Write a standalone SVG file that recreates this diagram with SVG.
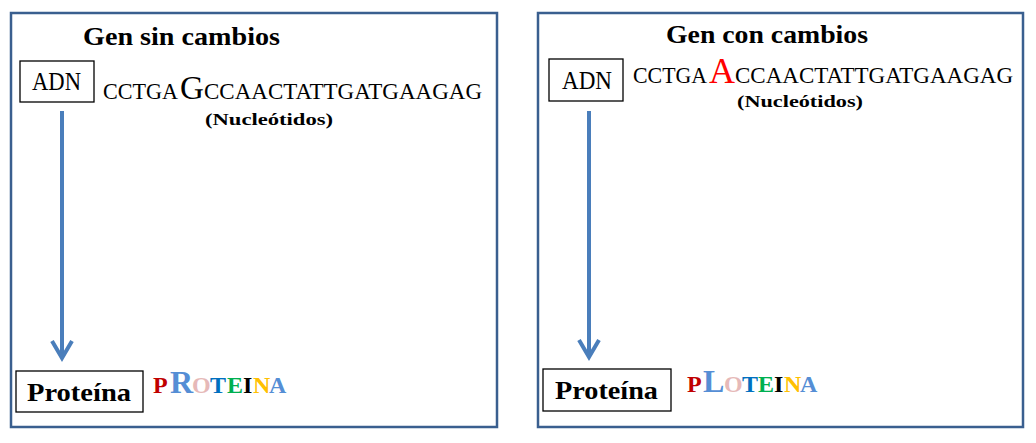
<svg xmlns="http://www.w3.org/2000/svg" width="1036" height="443" viewBox="0 0 1036 443">
<style>
.panel{fill:#ffffff;stroke:#3a5f8f;stroke-width:2.5}
.box{fill:#ffffff;stroke:#000000;stroke-width:1.3}
.title{font-family:"Liberation Serif",serif;font-weight:bold;font-size:25px;fill:#000}
.adn{font-family:"Liberation Serif",serif;font-size:25px;fill:#000}
.seq{font-family:"Liberation Serif",serif;font-size:24px;fill:#000}
.red{fill:#ff0000}
.nuc{font-family:"Liberation Serif",serif;font-weight:bold;font-size:17px;fill:#000}
.prot{font-family:"Liberation Serif",serif;font-weight:bold;font-size:26px;fill:#000}
.aa{font-family:"Liberation Serif",serif;font-weight:bold;font-size:24px}
.big{font-size:32px}
.conn{stroke:#4a7ebb;stroke-width:4;fill:none}
</style>
<defs>
<marker id="head" markerUnits="userSpaceOnUse" orient="auto" refX="0" refY="0" markerWidth="30" markerHeight="30" viewBox="-20 -15 30 30" overflow="visible">
<path d="M-17,-10 L0,0 L-17,10" fill="none" stroke="#4a7ebb" stroke-width="4" stroke-linejoin="miter"/>
</marker>
</defs>
<rect x="0" y="0" width="1036" height="443" fill="#ffffff"/>
<g id="panel-left">
<rect class="panel" x="11" y="13" width="486" height="414"/>
<text class="title" x="83" y="45" textLength="197" lengthAdjust="spacingAndGlyphs">Gen sin cambios</text>
<text class="seq" x="103" y="99" textLength="75" lengthAdjust="spacingAndGlyphs">CCTGA</text>
<text class="seq" x="180" y="99" style="font-size:33px">G</text>
<text class="seq" x="204" y="99" textLength="278" lengthAdjust="spacingAndGlyphs">CCAACTATTGATGAAGAG</text>
<text class="nuc" x="205" y="125" textLength="128" lengthAdjust="spacingAndGlyphs">(Nucleótidos)</text>
<g class="aa">
<text x="153" y="393" fill="#c00000">P</text>
<text x="170" y="393" fill="#558ed5" class="big">R</text>
<text x="192" y="393" fill="#e6b9b8">O</text>
<text x="210" y="393" fill="#0070c0">T</text>
<text x="227" y="393" fill="#00b050">E</text>
<text x="243" y="393" fill="#000000">I</text>
<text x="253" y="393" fill="#ffc000">N</text>
<text x="269" y="393" fill="#558ed5">A</text>
</g>
</g>
<g id="node-adn-left">
<rect class="box" x="20" y="61" width="74" height="41"/>
<text class="adn" x="32" y="90" textLength="49" lengthAdjust="spacingAndGlyphs">ADN</text>
</g>
<g id="node-proteina-left">
<rect class="box" x="16" y="371" width="127" height="41"/>
<text class="prot" x="27" y="401" textLength="104" lengthAdjust="spacingAndGlyphs">Proteína</text>
</g>
<g id="panel-right">
<rect class="panel" x="538" y="13" width="485" height="414"/>
<text class="title" x="666" y="43" textLength="202" lengthAdjust="spacingAndGlyphs">Gen con cambios</text>
<text class="seq" x="633" y="83" textLength="74" lengthAdjust="spacingAndGlyphs">CCTGA</text>
<text class="seq red" x="709" y="83" style="font-size:36px">A</text>
<text class="seq" x="735" y="83" textLength="278" lengthAdjust="spacingAndGlyphs">CCAACTATTGATGAAGAG</text>
<text class="nuc" x="737" y="107" textLength="126" lengthAdjust="spacingAndGlyphs">(Nucleótidos)</text>
<g class="aa">
<text x="687" y="392" fill="#c00000">P</text>
<text x="703" y="392" fill="#558ed5" class="big">L</text>
<text x="724" y="392" fill="#e6b9b8">O</text>
<text x="742" y="392" fill="#0070c0">T</text>
<text x="758" y="392" fill="#00b050">E</text>
<text x="774" y="392" fill="#000000">I</text>
<text x="784" y="392" fill="#ffc000">N</text>
<text x="800" y="392" fill="#558ed5">A</text>
</g>
</g>
<g id="node-adn-right">
<rect class="box" x="549" y="59" width="74" height="42"/>
<text class="adn" x="562" y="89" textLength="50" lengthAdjust="spacingAndGlyphs">ADN</text>
</g>
<g id="node-proteina-right">
<rect class="box" x="543" y="369" width="128" height="42"/>
<text class="prot" x="555" y="399" textLength="103" lengthAdjust="spacingAndGlyphs">Proteína</text>
</g>
<g id="connectors">
<path class="conn" d="M62,111 L62,358" marker-end="url(#head)"/>
<path class="conn" d="M589,111 L589,357" marker-end="url(#head)"/>
</g>
</svg>
